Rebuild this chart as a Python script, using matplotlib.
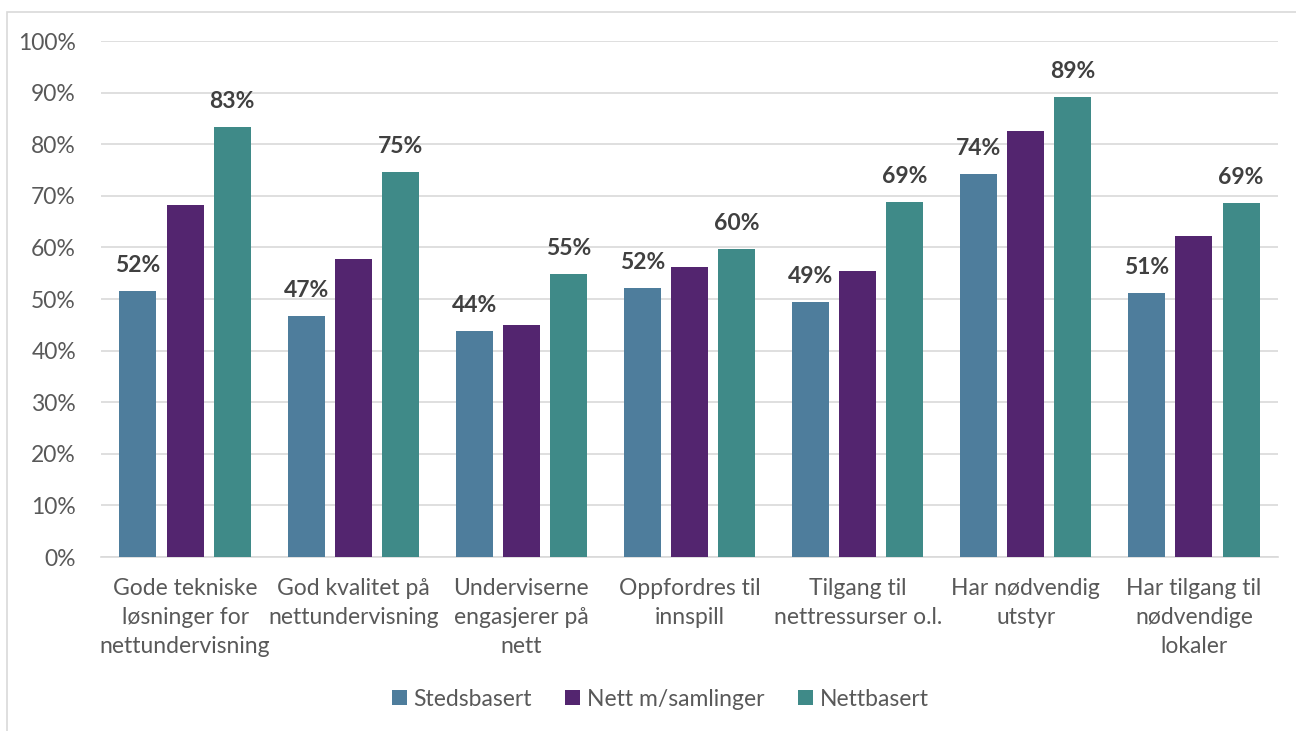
import matplotlib
matplotlib.use("Agg")
import matplotlib.pyplot as plt
import numpy as np
from matplotlib.patches import Rectangle

categories = ["Gode tekniske\nløsninger for\nnettundervisning",
              "God kvalitet på\nnettundervisning",
              "Underviserne\nengasjerer på\nnett",
              "Oppfordres til\ninnspill",
              "Tilgang til\nnettressurser o.l.",
              "Har nødvendig\nutstyr",
              "Har tilgang til\nnødvendige\nlokaler"]
series_names = ["Stedsbasert", "Nett m/samlinger", "Nettbasert"]
stedsbasert = [51.6, 46.7, 43.8, 52.1, 49.4, 74.2, 51.2]
nett_samlinger = [68.2, 57.8, 45.0, 56.2, 55.4, 82.6, 62.2]
nettbasert = [83.3, 74.6, 54.8, 59.7, 68.8, 89.1, 68.6]
yticks = [0, 10, 20, 30, 40, 50, 60, 70, 80, 90, 100]
labelled = [True, False, True]

colors = ["#4E7D9C", "#53256F", "#3F8A88"]
plt.rcParams['font.family'] = ['Lato', 'DejaVu Sans']
FS = 16.5

fig = plt.figure(figsize=(12.96, 7.31), dpi=100)
fig.patches.append(Rectangle((7/1296, -0.01), 1.1, 1 - 12/731 + 0.01, transform=fig.transFigure,
                             fill=False, edgecolor="#D9D9D9", linewidth=1.2))
ax = fig.add_axes([101/1296, 1 - 557/731, 1177/1296, (557 - 41)/731])

x = np.arange(len(categories))
w = 0.22
off = 0.28
data = [stedsbasert, nett_samlinger, nettbasert]
for i, (vals, name, c) in enumerate(zip(data, series_names, colors)):
    pos = x + (i - 1) * off
    bars = ax.bar(pos, vals, width=w, color=c, label=name, zorder=3)
    if labelled[i]:
        for p, v in zip(pos, vals):
            ax.text(p, v + 3.7, f"{v:.0f}%", ha="center", va="baseline",
                    fontsize=FS, fontweight="bold", color="#404040")

ax.set_xlim(-0.5, len(categories) - 0.5)
ax.set_ylim(0, 100)
ax.set_yticks(yticks)
ax.set_yticklabels([f"{t}%" for t in yticks], fontsize=FS, color="#595959")
ax.set_xticks(x)
ax.set_xticklabels(categories, fontsize=FS, color="#595959", linespacing=1.48)
ax.tick_params(axis="both", length=0)
ax.tick_params(axis="y", pad=18)
ax.tick_params(axis="x", pad=15)
ax.grid(axis="y", color="#D9D9D9", linewidth=1.2, zorder=0)
for s in ["top", "right", "left"]:
    ax.spines[s].set_visible(False)
ax.spines["bottom"].set_color("#D9D9D9")
ax.spines["bottom"].set_linewidth(1.2)

leg = fig.legend(loc="center", bbox_to_anchor=(660/1296, 1 - 699/731), ncol=3,
                 frameon=False, fontsize=FS, handlelength=0.65, handleheight=0.65,
                 handletextpad=0.3, columnspacing=1.45)
for t in leg.get_texts():
    t.set_color("#595959")

fig.savefig("out.png", dpi=100)
